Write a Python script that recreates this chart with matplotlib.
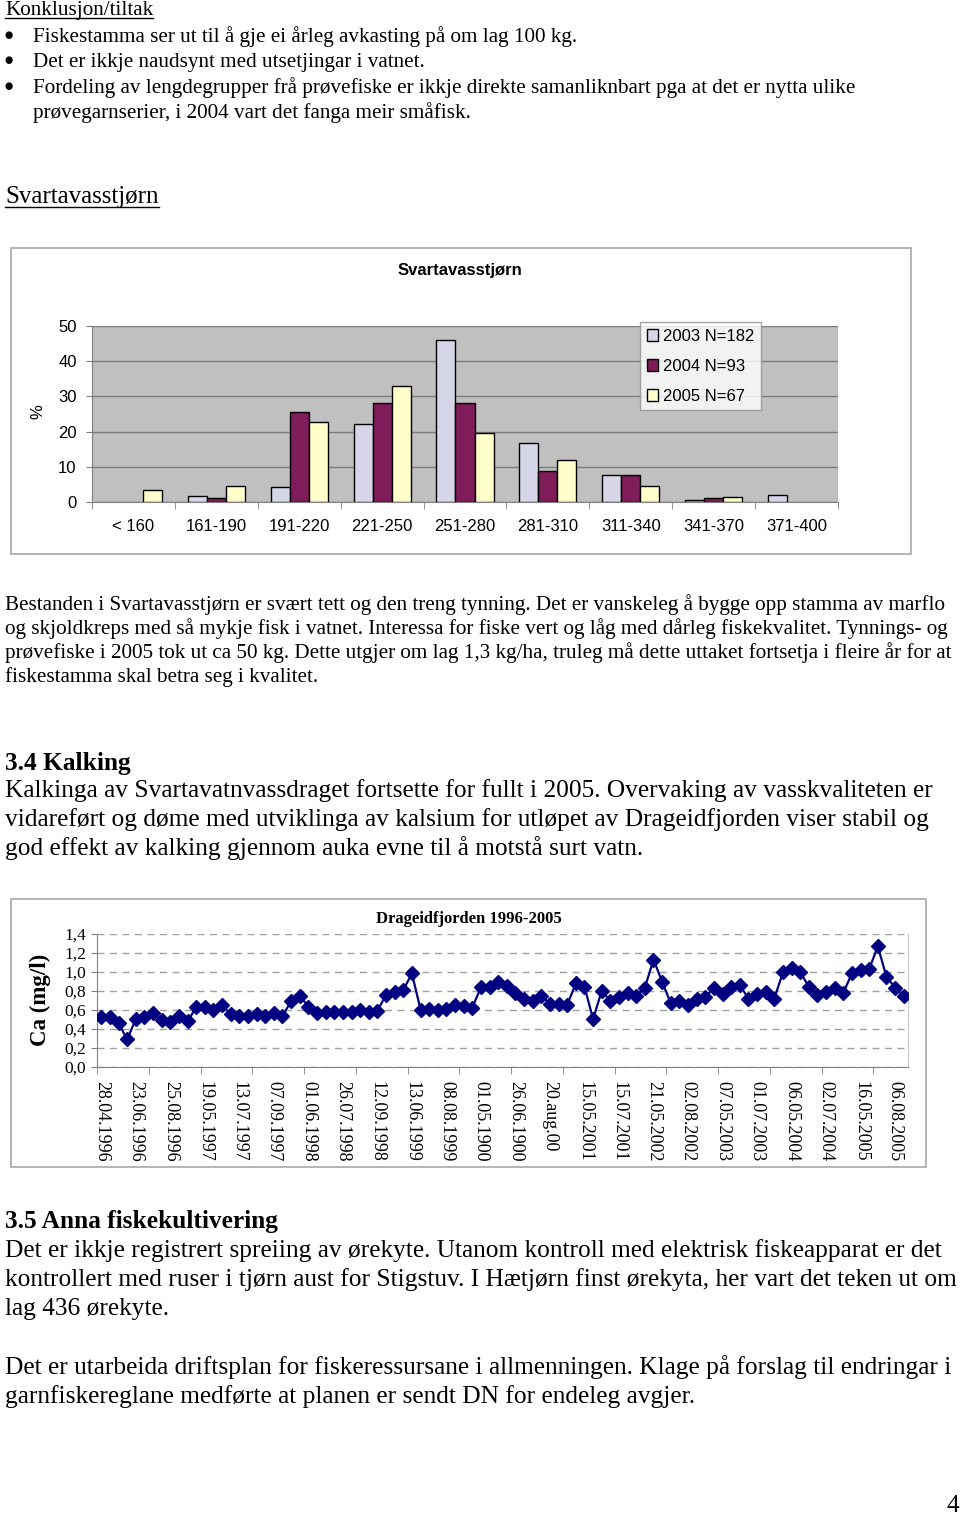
import matplotlib
matplotlib.use('Agg')
import matplotlib.pyplot as plt
import numpy as np
from matplotlib.patches import Rectangle
from matplotlib.lines import Line2D

W, H = 960, 1515

# ---------------- data ----------------
length_groups = ['< 160', '161-190', '191-220', '221-250', '251-280',
                 '281-310', '311-340', '341-370', '371-400']
series_names = ['2003 N=182', '2004 N=93', '2005 N=67']
pct_2003 = [0, 1.8, 4.2, 22.1, 45.9, 16.8, 7.7, 0.5, 1.9]
pct_2004 = [0, 1.0, 25.7, 28.0, 28.0, 8.7, 7.7, 1.0, 0]
pct_2005 = [3.3, 4.5, 22.6, 33.0, 19.5, 11.8, 4.6, 1.5, 0]

ca_labels = ['28.04.1996', '23.06.1996', '25.08.1996', '19.05.1997', '13.07.1997',
             '07.09.1997', '01.06.1998', '26.07.1998', '12.09.1998', '13.06.1999',
             '08.08.1999', '01.05.1900', '26.06.1900', '20.aug.00', '15.05.2001',
             '15.07.2001', '21.05.2002', '02.08.2002', '07.05.2003', '01.07.2003',
             '06.05.2004', '02.07.2004', '16.05.2005', '06.08.2005']
ca_values = [0.53, 0.53, 0.46, 0.29, 0.505, 0.53, 0.565, 0.495, 0.47, 0.535,
             0.48, 0.63, 0.635, 0.60, 0.65, 0.555, 0.54, 0.535, 0.555, 0.54,
             0.565, 0.54, 0.69, 0.75, 0.635, 0.565, 0.58, 0.58, 0.575, 0.58,
             0.60, 0.58, 0.59, 0.76, 0.79, 0.81, 0.985, 0.605, 0.61, 0.60,
             0.615, 0.65, 0.645, 0.625, 0.84, 0.845, 0.89, 0.85, 0.78, 0.72,
             0.695, 0.75, 0.665, 0.665, 0.655, 0.88, 0.845, 0.505, 0.80, 0.695,
             0.74, 0.775, 0.75, 0.835, 1.13, 0.90, 0.67, 0.69, 0.65, 0.715,
             0.74, 0.83, 0.77, 0.845, 0.865, 0.72, 0.77, 0.79, 0.72, 0.995,
             1.045, 1.00, 0.845, 0.76, 0.79, 0.83, 0.78, 0.985, 1.02, 1.03,
             1.27, 0.95, 0.835, 0.745]
ca_label_step = 4

bullets = ["Fiskestamma ser ut til å gje ei årleg avkasting på om lag 100 kg.",
           "Det er ikkje naudsynt med utsetjingar i vatnet.",
           "Fordeling av lengdegrupper frå prøvefiske er ikkje direkte samanliknbart pga at det er nytta ulike"]
bullet3_cont = "prøvegarnserier, i 2004 vart det fanga meir småfisk."
para1 = ["Bestanden i Svartavasstjørn er svært tett og den treng tynning. Det er vanskeleg å bygge opp stamma av marflo",
         "og skjoldkreps med så mykje fisk i vatnet. Interessa for fiske vert og låg med dårleg fiskekvalitet. Tynnings- og",
         "prøvefiske i 2005 tok ut ca 50 kg. Dette utgjer om lag 1,3 kg/ha, truleg må dette uttaket fortsetja i fleire år for at",
         "fiskestamma skal betra seg i kvalitet."]
para2 = ["Kalkinga av Svartavatnvassdraget fortsette for fullt i 2005. Overvaking av vasskvaliteten er",
         "vidareført og døme med utviklinga av kalsium for utløpet av Drageidfjorden viser stabil og",
         "god effekt av kalking gjennom auka evne til å motstå surt vatn."]
para3 = ["Det er ikkje registrert spreiing av ørekyte. Utanom kontroll med elektrisk fiskeapparat er det",
         "kontrollert med ruser i tjørn aust for Stigstuv. I Hætjørn finst ørekyta, her vart det teken ut om",
         "lag 436 ørekyte."]
para4 = ["Det er utarbeida driftsplan for fiskeressursane i allmenningen. Klage på forslag til endringar i",
         "garnfiskereglane medførte at planen er sendt DN for endeleg avgjer."]

# ---------------- figure ----------------
fig = plt.figure(figsize=(W / 100, H / 100), dpi=100)
renderer = fig.canvas.get_renderer()


def fx(x):
    return x / W


def fy(y):
    return 1 - y / H


SERIF = 'Liberation Serif'
SANS = 'Liberation Sans'


def fit_size(s, target, family=SERIF, weight='normal', base=12.0):
    t = fig.text(0, 0, s, fontsize=base, family=family, weight=weight)
    w = t.get_window_extent(renderer).width
    t.remove()
    return base * target / w


fs_small = fit_size(bullets[0], 544)
fs_large = fit_size(para4[1], 688)
fs_head_b = fit_size("3.5 Anna fiskekultivering", 272, weight='bold')
fs_head_r = fit_size("Svartavasstjørn", 154)


def txt(x, y, s, size, weight='normal', family=SERIF, **kw):
    return fig.text(fx(x), fy(y), s, fontsize=size, weight=weight, family=family,
                    ha=kw.pop('ha', 'left'), va=kw.pop('va', 'baseline'), **kw)


def underline(t, y, lw=1.0):
    bb = t.get_window_extent(renderer)
    fig.add_artist(Line2D([bb.x0 / W, bb.x1 / W], [fy(y), fy(y)], color='black', lw=lw,
                          transform=fig.transFigure))


# top section
t = txt(5, 15, "Konklusjon/tiltak", fs_small)
underline(t, 18)
for yb, s in zip([42, 67, 93], bullets):
    txt(9, yb - 7, "●", fs_small * 0.45, ha='center', family='DejaVu Sans', va='center')
    txt(33, yb, s, fs_small)
txt(33, 118, bullet3_cont, fs_small)

t = txt(5, 203, "Svartavasstjørn", fs_head_r)
underline(t, 207)

for yb, s in zip([610, 634, 658, 682], para1):
    txt(5, yb, s, fs_small)

txt(5, 770, "3.4 Kalking", fs_head_b, weight='bold')
for yb, s in zip([797, 826, 855], para2):
    txt(5, yb, s, fs_large)

txt(5, 1228, "3.5 Anna fiskekultivering", fs_head_b, weight='bold')
for yb, s in zip([1257, 1286, 1315], para3):
    txt(5, yb, s, fs_large)
for yb, s in zip([1374, 1403], para4):
    txt(5, yb, s, fs_large)
txt(959, 1512, "4", fs_large, ha='right')

# ---------------- bar chart ----------------
fig.add_artist(Rectangle((fx(11), fy(554)), (911 - 11) / W, (554 - 248) / H,
                         transform=fig.transFigure, fill=False, edgecolor='#A8A8A8', lw=1.2))
ax1 = fig.add_axes([fx(92), fy(502), (838 - 92) / W, (502 - 326) / H])
ax1.set_facecolor('#C0C0C0')
xg = np.arange(len(length_groups))
bw = 0.23
bar_colors = ['#D6D6E8', '#7F1D5A', '#FFFFCC']
for i, (vals, name, c) in enumerate(zip([pct_2003, pct_2004, pct_2005], series_names, bar_colors)):
    ax1.bar(xg + (i - 1) * bw, vals, bw, color=c, edgecolor='black',
            linewidth=[1.0 if v > 0 else 0 for v in vals], label=name, zorder=3)
ax1.set_xlim(-0.5, len(length_groups) - 0.5)
ax1.set_ylim(0, 50)
ax1.set_yticks(range(0, 51, 10))
ax1.yaxis.grid(True, color='#7A7A7A', lw=1.0)
ax1.set_axisbelow(True)
ax1.set_xticks(xg)
ax1.set_xticklabels(length_groups)
ax1.set_xticks(np.arange(-0.5, len(length_groups), 1), minor=True)
ax1.tick_params(axis='x', which='major', length=0, pad=12, labelsize=12)
ax1.tick_params(axis='x', which='minor', length=5, color='#808080')
ax1.tick_params(axis='y', length=4, color='#808080', pad=7, labelsize=12)
for lab in ax1.get_xticklabels() + ax1.get_yticklabels():
    lab.set_family(SANS)
for side in ['left', 'bottom']:
    ax1.spines[side].set_color('#808080')
for side in ['top', 'right']:
    ax1.spines[side].set_visible(False)
fig.text(fx(38), fy(412), "%", rotation=90, fontsize=12, family=SANS, ha='center', va='center')
fig.text(fx(460), fy(270), "Svartavasstjørn", fontsize=12, weight='bold', family=SANS,
         ha='center', va='center')
leg = ax1.legend(loc='upper left', bbox_to_anchor=(fx(640), fy(322)), bbox_transform=fig.transFigure,
                 borderaxespad=0, frameon=True, fancybox=False, edgecolor='#909090',
                 prop={'family': SANS, 'size': 12}, handlelength=0.7, handleheight=0.7,
                 handletextpad=0.3, labelspacing=0.9, borderpad=0.4)
for h in leg.legend_handles:
    h.set_linewidth(1.0)
    h.set_edgecolor('black')
leg.get_frame().set_linewidth(1.0)
leg.set_zorder(10)

# ---------------- line chart ----------------
fig.add_artist(Rectangle((fx(11), fy(1167)), (926 - 11) / W, (1167 - 899) / H,
                         transform=fig.transFigure, fill=False, edgecolor='#A8A8A8', lw=1.2))
ax2 = fig.add_axes([fx(97), fy(1067), (908 - 97) / W, (1067 - 934) / H])
idx = np.arange(len(ca_values))
ax2.plot(idx, ca_values, color='#000080', lw=1.6, marker='D', ms=7.5,
         mfc='#000080', mec='#000080', zorder=3)
ax2.set_xlim(-0.5, len(ca_values) - 0.5)
ax2.set_ylim(0, 1.4)
yt = np.arange(0, 1.41, 0.2)
ax2.set_yticks(yt)
ax2.set_yticklabels([f'{v:.1f}'.replace('.', ',') for v in yt])
ax2.yaxis.grid(True, color='#A0A0A0', linestyle=(0, (5, 4)), lw=1.0)
ax2.set_axisbelow(True)
ax2.set_xticks(idx[::ca_label_step])
ax2.set_xticklabels(ca_labels, rotation=-90)
ax2.set_xticks(np.arange(-0.5, len(ca_values), 6), minor=True)
ax2.tick_params(axis='x', which='major', length=0, pad=10, labelsize=13)
ax2.tick_params(axis='x', which='minor', length=5, color='#808080')
ax2.tick_params(axis='y', length=4, color='#808080', pad=4, labelsize=12.5)
for lab in ax2.get_xticklabels() + ax2.get_yticklabels():
    lab.set_family(SERIF)
ax2.spines['left'].set_color('#808080')
ax2.spines['bottom'].set_color('#808080')
ax2.spines['right'].set_color('#C8C8C8')
ax2.spines['top'].set_visible(False)
fig.text(fx(40), fy(1000), "Ca (mg/l)", rotation=90, fontsize=16.5, weight='bold', family=SERIF,
         ha='center', va='center')
fig.text(fx(469), fy(919), "Drageidfjorden 1996-2005", fontsize=12, weight='bold', family=SERIF,
         ha='center', va='center')

fig.savefig('out.png', dpi=100)
